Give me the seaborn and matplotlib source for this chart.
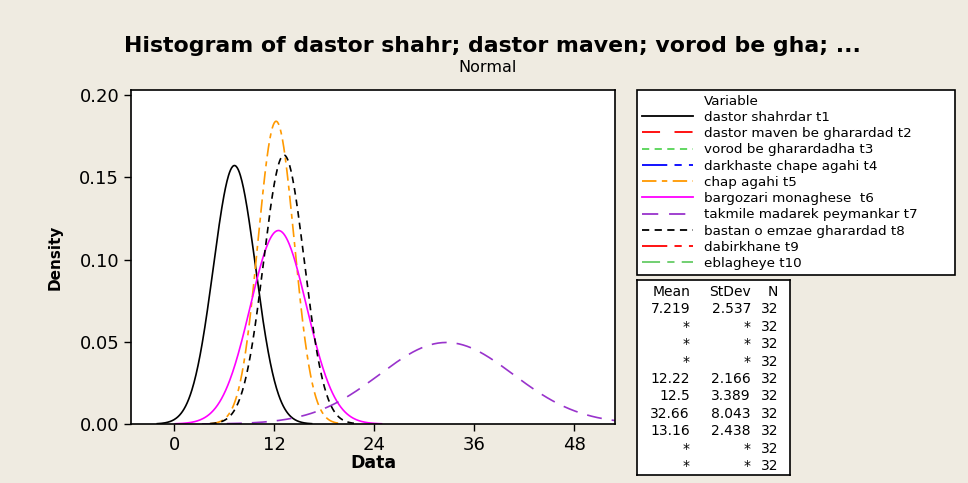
import numpy as np
import pandas as pd
import matplotlib
matplotlib.use("Agg")
import matplotlib.pyplot as plt
import seaborn as sns
from matplotlib.lines import Line2D

# ---- data ----
variables = ["dastor shahrdar t1", "dastor maven be gharardad t2", "vorod be gharardadha t3",
             "darkhaste chape agahi t4", "chap agahi t5", "bargozari monaghese  t6",
             "takmile madarek peymankar t7", "bastan o emzae gharardad t8",
             "dabirkhane t9", "eblagheye t10"]
means = [7.219, np.nan, np.nan, np.nan, 12.22, 12.5, 32.66, 13.16, np.nan, np.nan]
stdevs = [2.537, np.nan, np.nan, np.nan, 2.166, 3.389, 8.043, 2.438, np.nan, np.nan]
counts = [32, 32, 32, 32, 32, 32, 32, 32, 32, 32]
x_ticks = [0, 12, 24, 36, 48]
y_ticks = [0.00, 0.05, 0.10, 0.15, 0.20]

# styles
colors = ["black", "#FF0000", "#55D455", "#0000FF", "#FF9900", "#FF00FF",
          "#9933CC", "black", "#FF0000", "#66CC66"]
dashes = [(None, None), (10, 8), (4, 3), (14, 4, 4, 4), (8, 3, 3, 3), (None, None),
          (9, 6), (4, 3), (14, 4, 4, 4), (10, 4, 4, 4)]

bg = "#EFEBE1"
fig = plt.figure(figsize=(9.68, 4.83), dpi=100, facecolor=bg)
ax = fig.add_axes([131/968, 1-424/483, (615-131)/968, (424-90)/483])
ax.set_facecolor("white")

xmin, xmax = -5.2, 52.9
rows = []
for name, m, s in zip(variables, means, stdevs):
    if np.isnan(m):
        continue
    xs = np.linspace(max(m - 3.65 * s, xmin), min(m + 3.65 * s, xmax), 300)
    ys = np.exp(-0.5 * ((xs - m) / s) ** 2) / (s * np.sqrt(2 * np.pi))
    rows.append(pd.DataFrame({"x": xs, "density": ys, "Variable": name}))
df = pd.concat(rows, ignore_index=True)

for i, name in enumerate(variables):
    sub = df[df["Variable"] == name]
    if sub.empty:
        continue
    sns.lineplot(data=sub, x="x", y="density", ax=ax, color=colors[i], lw=1.2,
                 legend=False)
    if dashes[i][0] is not None:
        ax.lines[-1].set_dashes(dashes[i])

ax.set_xlim(xmin, xmax)
ax.set_ylim(0, 0.2032)
ax.set_xticks(x_ticks)
ax.set_xticklabels([str(t) for t in x_ticks])
ax.set_yticks(y_ticks)
ax.set_yticklabels([f"{t:.2f}" for t in y_ticks])
ax.tick_params(direction="out", length=5, width=1, labelsize=13, colors="black")
for sp in ax.spines.values():
    sp.set_linewidth(1.2)
ax.set_xlabel("Data", fontsize=12.5, fontweight="bold", labelpad=0)
ax.set_ylabel("Density", fontsize=11, fontweight="bold", labelpad=12)

fig.text(492/968, 1 - 46/483, "Histogram of dastor shahr; dastor maven; vorod be gha; ...",
         ha="center", va="center", fontsize=15.8, fontweight="bold")
fig.text(488/968, 1 - 67/483, "Normal", ha="center", va="center", fontsize=11.5)

# legend
handles = [Line2D([], [], color="none")]
labels = ["Variable"]
for i, name in enumerate(variables):
    h = Line2D([], [], color=colors[i], lw=1.3)
    if dashes[i][0] is not None:
        h.set_dashes(dashes[i])
    handles.append(h)
    labels.append(name)
leg = fig.legend(handles, labels, loc="upper left",
                 bbox_to_anchor=(637/968, 1 - 277/483, (955-637)/968, (277-90)/483),
                 mode="expand", fontsize=9.7, handlelength=3.8, handletextpad=0.8,
                 labelspacing=0.24, borderpad=0.35, frameon=True, fancybox=False,
                 edgecolor="black", facecolor="white", framealpha=1, borderaxespad=0)
leg.get_frame().set_linewidth(1.2)

# stats table
tax = fig.add_axes([637/968, 1 - 475/483, (790-637)/968, (475-280)/483])
tax.set_xlim(637, 790)
tax.set_ylim(475, 280)
tax.set_xticks([])
tax.set_yticks([])
for sp in tax.spines.values():
    sp.set_linewidth(1.2)

def fmt(v):
    if np.isnan(v):
        return "*"
    return f"{v:.4g}"

row_y = 292
step = 17.4
fs = 10
tax.text(690, row_y, "Mean", ha="right", va="center", fontsize=fs)
tax.text(751, row_y, "StDev", ha="right", va="center", fontsize=fs)
tax.text(778, row_y, "N", ha="right", va="center", fontsize=fs)
for k in range(len(variables)):
    yy = row_y + step * (k + 1)
    tax.text(690, yy, fmt(means[k]), ha="right", va="center", fontsize=fs)
    tax.text(751, yy, fmt(stdevs[k]), ha="right", va="center", fontsize=fs)
    tax.text(778, yy, str(counts[k]), ha="right", va="center", fontsize=fs)

fig.savefig("out.png", dpi=100, facecolor=bg)
